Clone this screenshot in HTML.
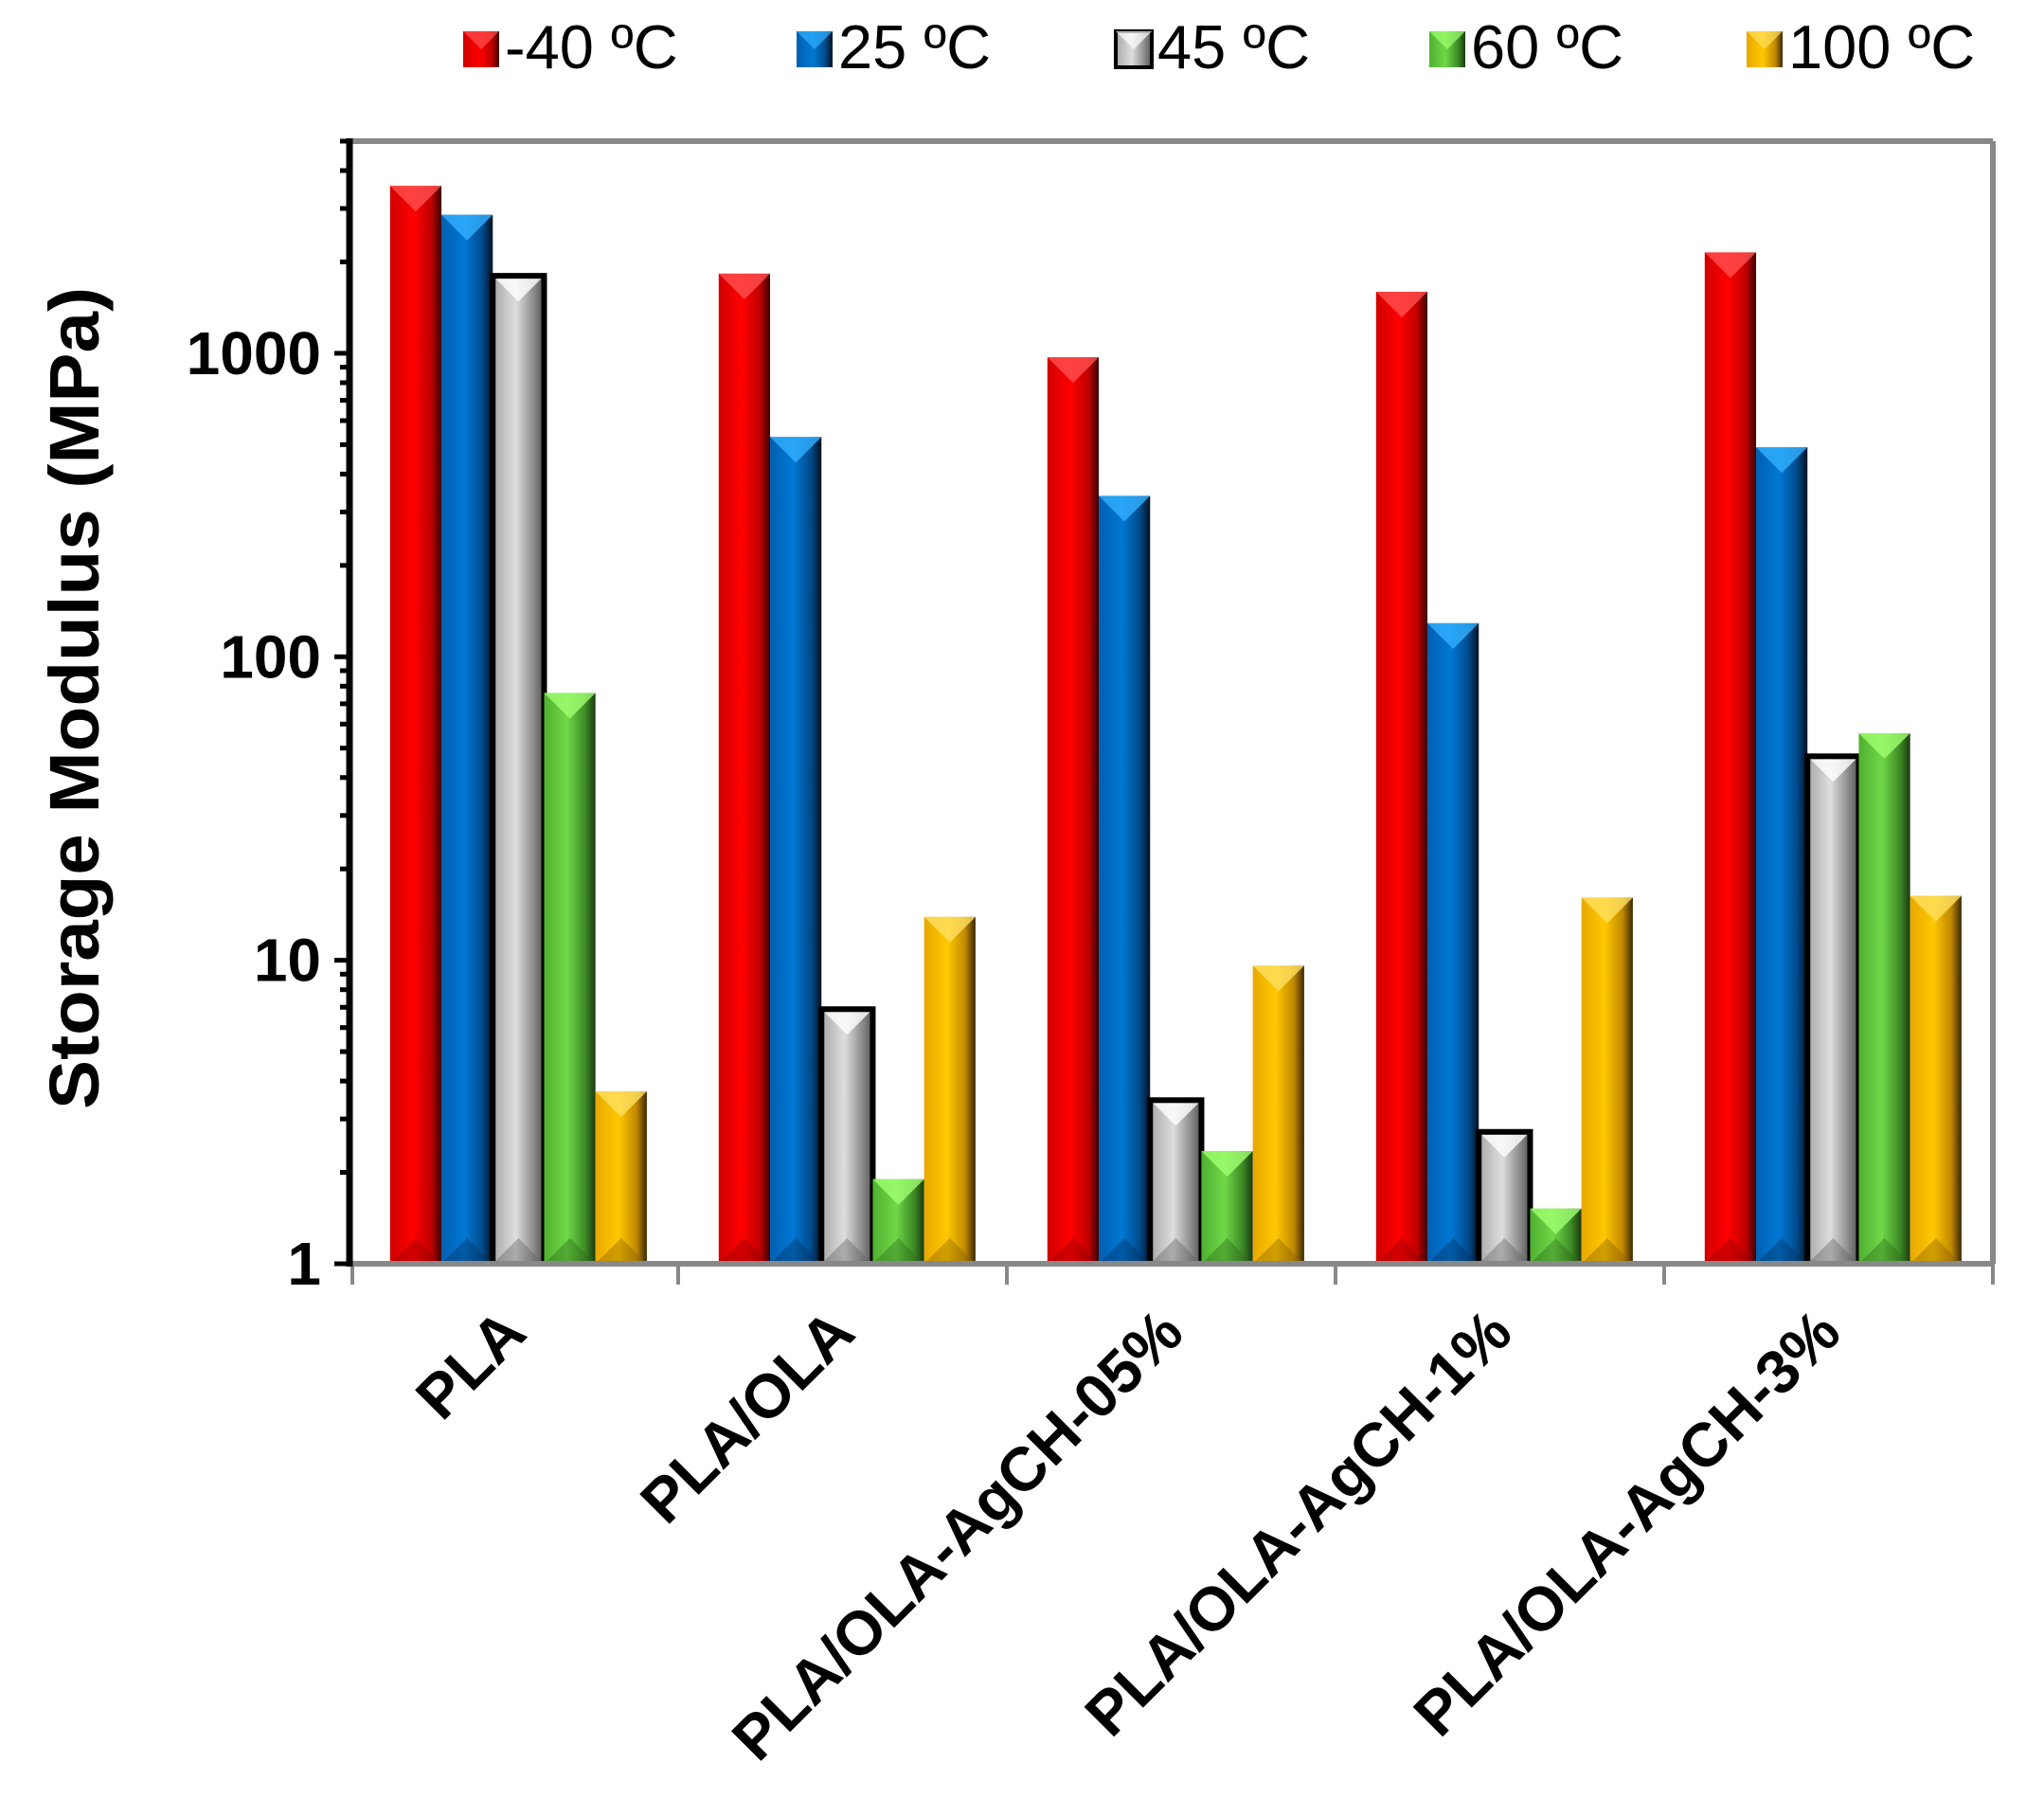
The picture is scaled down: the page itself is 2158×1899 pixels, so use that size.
<!DOCTYPE html>
<html><head><meta charset="utf-8"><style>
html,body{margin:0;padding:0;background:#fff;}
svg{display:block;font-family:"Liberation Sans",Arial,sans-serif;}
</style></head><body>
<svg id="chart" width="2158" height="1899" viewBox="0 0 2158 1899" xmlns="http://www.w3.org/2000/svg">
<defs>
<linearGradient id="g0" x1="0" x2="1"><stop offset="0" stop-color="#d00000"/><stop offset="0.45" stop-color="#ff0000"/><stop offset="0.8" stop-color="#c00000"/><stop offset="1" stop-color="#3a0000"/></linearGradient>
<linearGradient id="g1" x1="0" x2="1"><stop offset="0" stop-color="#005fb0"/><stop offset="0.45" stop-color="#0078d4"/><stop offset="0.8" stop-color="#004a8a"/><stop offset="1" stop-color="#001020"/></linearGradient>
<linearGradient id="g2" x1="0" x2="1"><stop offset="0" stop-color="#a8a8a8"/><stop offset="0.45" stop-color="#dedede"/><stop offset="0.8" stop-color="#8a8a8a"/><stop offset="1" stop-color="#555"/></linearGradient>
<linearGradient id="g3" x1="0" x2="1"><stop offset="0" stop-color="#4fb030"/><stop offset="0.45" stop-color="#70d848"/><stop offset="0.8" stop-color="#3d8a25"/><stop offset="1" stop-color="#1a3a10"/></linearGradient>
<linearGradient id="g4" x1="0" x2="1"><stop offset="0" stop-color="#e8a800"/><stop offset="0.45" stop-color="#ffc800"/><stop offset="0.8" stop-color="#c08800"/><stop offset="1" stop-color="#3a2800"/></linearGradient>
</defs>
<g id="legend"></g>
<g id="plot"></g>
</svg>
<script>
const categories = ["PLA","PLA/OLA","PLA/OLA-AgCH-05%","PLA/OLA-AgCH-1%","PLA/OLA-AgCH-3%"];
const seriesNames = ["-40 ºC","25 ºC","45 ºC","60 ºC","100 ºC"];
const sMinus40 = [3560,1830,970,1595,2150];
const s25 = [2860,530,339,129,490];
const s45 = [1800,6.9,3.46,2.72,47];
const s60 = [76,1.9,2.35,1.52,56];
const s100 = [3.7,13.9,9.6,16.1,16.3];
const yTickLabels = ["1","10","100","1000"];
const yTickValues = [1,10,100,1000];

const series = [sMinus40,s25,s45,s60,s100];
const lightTop = ["#ff5050","#33b0ff","#ffffff","#a0ff70","#ffe060"];
const darkBot = ["#900000","#003060","#606060","#2a6a18","#8a6000"];
const NS="http://www.w3.org/2000/svg";
const plot=document.getElementById('plot');
const legend=document.getElementById('legend');
const L=369,R=2104,T=149,B=1334,yMax=5000;
function y(v){return B-Math.log10(v)/Math.log10(yMax)*(B-T);}
const catW=(R-L)/categories.length;
function x(i){return L+catW*i;}
function mk(tag,attrs,parent){const e=document.createElementNS(NS,tag);for(const k in attrs)e.setAttribute(k,attrs[k]);(parent||plot).appendChild(e);return e;}

const bw=catW/6.4;
series.forEach((s,si)=>{
  s.forEach((v,ci)=>{
    const bx=x(ci)+(catW-5*bw)/2 + catW*0.014 + si*bw;
    const top=y(v),h=B-top;
    const g=mk('g',{});
    
    
    mk('rect',{x:bx,y:top,width:bw,height:h,fill:'url(#g'+si+')'},g);
    const tri=Math.min(bw/2,h/2);
    mk('polygon',{points:`${bx},${top} ${bx+bw},${top} ${bx+bw/2},${top+tri}`,fill:lightTop[si],opacity:0.8},g);
    mk('polygon',{points:`${bx},${B} ${bx+bw},${B} ${bx+bw/2},${B-tri}`,fill:darkBot[si],opacity:0.4},g);
    if(si===2) mk('rect',{x:bx,y:top,width:bw,height:h,fill:'none',stroke:'#000','stroke-width':6},g);
  });
});

mk('line',{x1:L,y1:T,x2:R,y2:T,stroke:'#888','stroke-width':6});
mk('line',{x1:R,y1:T,x2:R,y2:B,stroke:'#888','stroke-width':6});
const xa=mk('line',{x1:L,y1:B,x2:R,y2:B,stroke:'#888','stroke-width':6});

for(let i=0;i<=categories.length;i++){mk('line',{x1:x(i)+3*(i==0),y1:B,x2:x(i)+3*(i==0),y2:B+22,stroke:'#888','stroke-width':4});}
const ya=mk('line',{x1:L,y1:T-3,x2:L,y2:B+3,stroke:'#000','stroke-width':7});

for(let d=0;d<4;d++){for(let m=1;m<10;m++){const v=m*Math.pow(10,d);if(v>yMax)break;const yy=y(v);mk('line',{x1:L-(m==1?16:10),y1:yy,x2:L,y2:yy,stroke:'#000','stroke-width':5});}}
yTickLabels.forEach((t,i)=>{const e=mk('text',{x:L-30,y:y(yTickValues[i])+22,'text-anchor':'end','font-size':64,'font-weight':'bold'});e.textContent=t;

});
const yt=mk('text',{transform:`translate(104,737) rotate(-90)`,'text-anchor':'middle','font-size':74,'font-weight':'bold',textLength:868,lengthAdjust:'spacingAndGlyphs'});
yt.textContent='Storage Modulus (MPa)';


categories.forEach((c,i)=>{const cx=x(i)+catW/2+16,cy=B+76;const e=mk('text',{transform:`translate(${cx},${cy}) rotate(-45)`,'text-anchor':'end','font-size':65,'font-weight':'bold'});e.textContent=c;

});

const lx=[489,841,1178,1509,1844];
seriesNames.forEach((n,i)=>{const g=mk('g',{},legend);


const s=38,x0=lx[i],y0=33;
mk('rect',{x:x0,y:y0,width:s,height:s,fill:'url(#g'+i+')',stroke:i==2?'#000':'none','stroke-width':4},g);
mk('polygon',{points:`${x0},${y0} ${x0+s},${y0} ${x0+s/2},${y0+s/2}`,fill:lightTop[i],opacity:0.7},g);
const t=mk('text',{x:x0+s+6,y:y0+s+1,'font-size':65},g);t.textContent=n;});
</script>
</body></html>
